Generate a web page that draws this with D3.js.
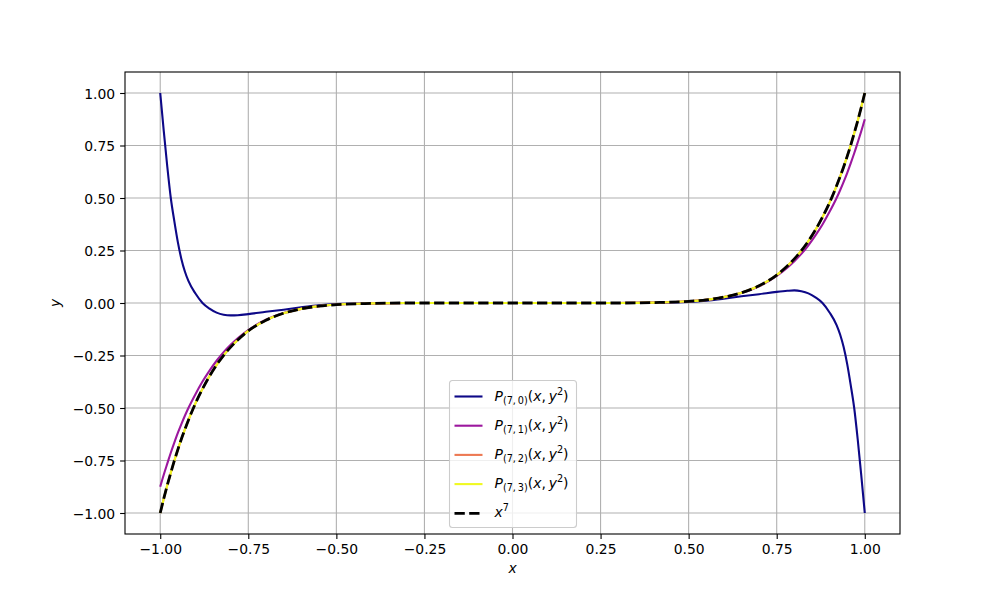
<!DOCTYPE html>
<html>
<head>
<meta charset="utf-8">
<script src="https://cdn.jsdelivr.net/npm/d3@7"></script>
<style>
  body { margin: 0; background: #fff; }
  text { font-family: "DejaVu Sans", sans-serif; }
</style>
</head>
<body>
<svg id="chart" width="1000" height="600"></svg>
<script>
// sample x positions shared by every curve
const xs = [-1, -0.99, -0.98, -0.97, -0.96, -0.95, -0.94, -0.93, -0.92, -0.9, -0.88, -0.86, -0.84, -0.82, -0.8, -0.78, -0.75, -0.7, -0.65, -0.6, -0.55, -0.5, -0.4, -0.3, -0.2, 0,
            0.2, 0.3, 0.4, 0.5, 0.55, 0.6, 0.65, 0.7, 0.75, 0.78, 0.8, 0.82, 0.84, 0.86, 0.88, 0.9, 0.92, 0.93, 0.94, 0.95, 0.96, 0.97, 0.98, 0.99, 1];

// values
const p70 = [1, 0.82, 0.65, 0.5, 0.39, 0.29, 0.21, 0.15, 0.105, 0.045, 0.0, -0.027, -0.046, -0.056, -0.059, -0.058, -0.053, -0.042, -0.032, -0.021, -0.011, -0.005, -0.001, 0, 0, 0,
             0, 0, 0.001, 0.005, 0.011, 0.021, 0.032, 0.042, 0.053, 0.058, 0.06, 0.056, 0.046, 0.027, 0.0, -0.045, -0.105, -0.15, -0.21, -0.29, -0.39, -0.5, -0.65, -0.82, -1];
const p71 = [-0.875, -0.818, -0.765, -0.713, -0.665, -0.619, -0.577, -0.537, -0.5, -0.434, -0.374, -0.322, -0.275, -0.234, -0.199, -0.168, -0.129, -0.08, -0.048, -0.028, -0.015, -0.008, -0.002, 0, 0, 0,
             0, 0, 0.002, 0.008, 0.015, 0.028, 0.048, 0.08, 0.129, 0.168, 0.199, 0.234, 0.275, 0.322, 0.374, 0.434, 0.5, 0.537, 0.577, 0.619, 0.665, 0.713, 0.765, 0.818, 0.875];
const p72 = [-1, -0.932, -0.868, -0.808, -0.751, -0.698, -0.648, -0.602, -0.558, -0.478, -0.409, -0.348, -0.295, -0.249, -0.21, -0.176, -0.133, -0.082, -0.049, -0.028, -0.015, -0.008, -0.002, 0, 0, 0,
             0, 0, 0.002, 0.008, 0.015, 0.028, 0.049, 0.082, 0.133, 0.176, 0.21, 0.249, 0.295, 0.348, 0.409, 0.478, 0.558, 0.602, 0.648, 0.698, 0.751, 0.808, 0.868, 0.932, 1];
const p73 = [-1, -0.932, -0.868, -0.808, -0.751, -0.698, -0.648, -0.602, -0.558, -0.478, -0.409, -0.348, -0.295, -0.249, -0.21, -0.176, -0.133, -0.082, -0.049, -0.028, -0.015, -0.008, -0.002, 0, 0, 0,
             0, 0, 0.002, 0.008, 0.015, 0.028, 0.049, 0.082, 0.133, 0.176, 0.21, 0.249, 0.295, 0.348, 0.409, 0.478, 0.558, 0.602, 0.648, 0.698, 0.751, 0.808, 0.868, 0.932, 1];
const x7 = [-1, -0.932, -0.868, -0.808, -0.751, -0.698, -0.648, -0.602, -0.558, -0.478, -0.409, -0.348, -0.295, -0.249, -0.21, -0.176, -0.133, -0.082, -0.049, -0.028, -0.015, -0.008, -0.002, 0, 0, 0,
            0, 0, 0.002, 0.008, 0.015, 0.028, 0.049, 0.082, 0.133, 0.176, 0.21, 0.249, 0.295, 0.348, 0.409, 0.478, 0.558, 0.602, 0.648, 0.698, 0.751, 0.808, 0.868, 0.932, 1];

const seriesSubs = ["(7,\u20090)", "(7,\u20091)", "(7,\u20092)", "(7,\u20093)"];
const seriesColors = ["#0d0887", "#9c179e", "#ed7953", "#f0f921"];

const xTicks = [-1, -0.75, -0.5, -0.25, 0, 0.25, 0.5, 0.75, 1];
const yTicks = [-1, -0.75, -0.5, -0.25, 0, 0.25, 0.5, 0.75, 1];

const svg = d3.select("#chart");
const plotLeft = 125, plotRight = 900, plotTop = 72, plotBottom = 534;

const x = d3.scaleLinear().domain([-1.1, 1.1]).range([plotLeft, plotRight]);
const y = d3.scaleLinear().domain([-1.1, 1.1]).range([plotBottom, plotTop]);

const fmt = d => d3.format(".2f")(d).replace("-", "\u2212");

// grid
const grid = svg.append("g").attr("stroke", "#b0b0b0").attr("stroke-width", 1.1);
xTicks.forEach(t => {
    grid.append("line").attr("x1", x(t)).attr("x2", x(t)).attr("y1", plotTop).attr("y2", plotBottom);
});
yTicks.forEach(t => {
    grid.append("line").attr("x1", plotLeft).attr("x2", plotRight).attr("y1", y(t)).attr("y2", y(t));
});

// curves
const line = d3.line()
    .x((d, i) => x(xs[i]))
    .y(d => y(d))
    .curve(d3.curveMonotoneX);

[p70, p71, p72, p73].forEach((vals, k) => {
    svg.append("path")
        .attr("d", line(vals))
        .attr("fill", "none")
        .attr("stroke", seriesColors[k])
        .attr("stroke-width", 2.1);
});

svg.append("path")
    .attr("d", line(x7))
    .attr("fill", "none")
    .attr("stroke", "black")
    .attr("stroke-width", 2.8)
    .attr("stroke-dasharray", "10.3,4.4");

// axes
const xAxis = d3.axisBottom(x).tickValues(xTicks).tickSize(4.9).tickPadding(4.9).tickFormat(fmt);
const yAxis = d3.axisLeft(y).tickValues(yTicks).tickSize(4.9).tickPadding(4.9).tickFormat(fmt);

const gx = svg.append("g").attr("transform", `translate(0,${plotBottom})`).call(xAxis);
const gy = svg.append("g").attr("transform", `translate(${plotLeft},0)`).call(yAxis);
[gx, gy].forEach(g => {
    g.select(".domain").remove();
    g.selectAll(".tick line").attr("stroke", "black").attr("stroke-width", 1.1);
    g.selectAll(".tick text").attr("fill", "black").attr("font-size", 13.9)
        .attr("font-family", "DejaVu Sans");
});
gx.selectAll(".tick text").attr("dy", null).attr("y", 20);
gy.selectAll(".tick text").attr("dy", "0.36em");

// frame
svg.append("rect")
    .attr("x", plotLeft).attr("y", plotTop)
    .attr("width", plotRight - plotLeft).attr("height", plotBottom - plotTop)
    .attr("fill", "none").attr("stroke", "black").attr("stroke-width", 1.1);

// axis labels
svg.append("text")
    .attr("x", x(0)).attr("y", 573)
    .attr("text-anchor", "middle")
    .attr("font-size", 13.9).attr("font-style", "italic")
    .text("x");

svg.append("text")
    .attr("transform", `translate(60,${y(0)}) rotate(-90)`)
    .attr("text-anchor", "middle")
    .attr("font-size", 13.9).attr("font-style", "italic")
    .text("y");

// legend
const lg = svg.append("g").attr("transform", "translate(449.5,380.5)");
lg.append("rect")
    .attr("width", 127).attr("height", 147).attr("rx", 3)
    .attr("fill", "white").attr("fill-opacity", 0.8)
    .attr("stroke", "#cccccc").attr("stroke-width", 1.1);

const rowY = i => 16 + i * 29.2;

seriesSubs.forEach((sub, i) => {
    lg.append("line")
        .attr("x1", 5).attr("x2", 33).attr("y1", rowY(i)).attr("y2", rowY(i))
        .attr("stroke", seriesColors[i]).attr("stroke-width", 2.1);
    const t = lg.append("text").attr("x", 45).attr("y", rowY(i) + 4).attr("font-size", 13.9);
    t.append("tspan").attr("font-style", "italic").text("P");
    t.append("tspan").attr("font-size", 9.7).attr("dy", 3).text(sub);
    t.append("tspan").attr("dy", -3).text("(");
    t.append("tspan").attr("font-style", "italic").text("x");
    t.append("tspan").text(",\u2009");
    t.append("tspan").attr("font-style", "italic").text("y");
    t.append("tspan").attr("font-size", 9.7).attr("dy", -6).text("2");
    t.append("tspan").attr("dy", 6).text(")");
});

lg.append("line")
    .attr("x1", 5).attr("x2", 33).attr("y1", rowY(4)).attr("y2", rowY(4))
    .attr("stroke", "black").attr("stroke-width", 2.8).attr("stroke-dasharray", "10.3,4.4");
const tx = lg.append("text").attr("x", 45).attr("y", rowY(4) + 4).attr("font-size", 13.9);
tx.append("tspan").attr("font-style", "italic").text("x");
tx.append("tspan").attr("font-size", 9.7).attr("dy", -6).text("7");
</script>
</body>
</html>
